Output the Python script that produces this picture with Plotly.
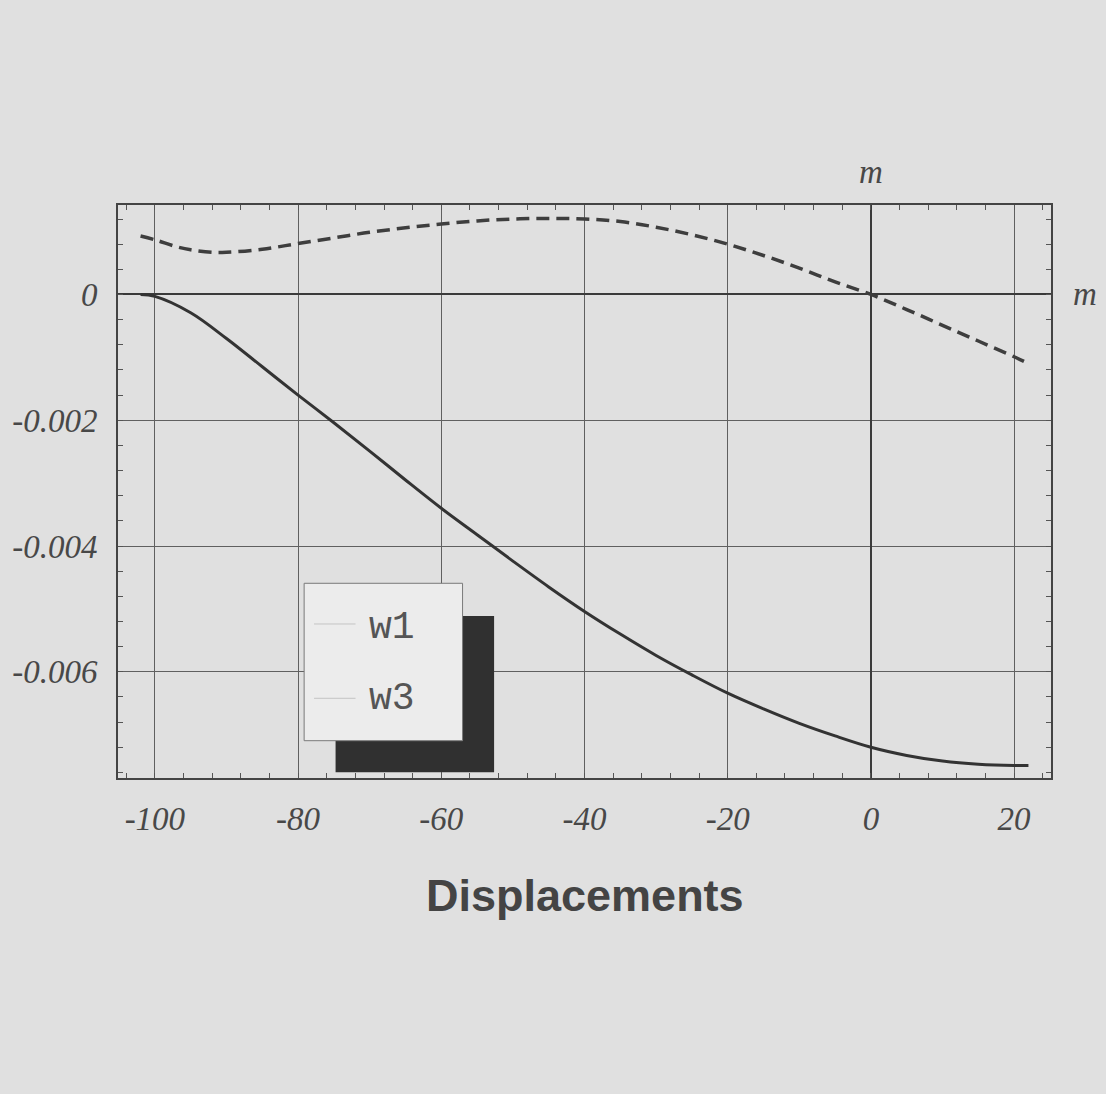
import plotly.graph_objects as go

# Beam displacement profiles along the span (m)
x_w1 = [-102, -100, -95, -90, -85, -80, -75, -70, -65, -60, -55, -50, -45, -40,
        -35, -30, -25, -20, -15, -10, -5, 0, 5, 10, 15, 20, 22]
w1 = [0.0, -0.00003, -0.00029, -0.00070, -0.00115, -0.00160, -0.00204, -0.00249,
      -0.00295, -0.00340, -0.00382, -0.00424, -0.00465, -0.00504, -0.00540,
      -0.00574, -0.00605, -0.00634, -0.00659, -0.00682, -0.00702, -0.00720,
      -0.00733, -0.00742, -0.00747, -0.00749, -0.00749]

x_w3 = [-102, -100, -97, -95, -92, -90, -85, -80, -75, -70, -65, -60, -55, -50,
        -45, -40, -35, -30, -25, -20, -15, -10, -5, 0, 5, 10, 15, 20, 22]
w3 = [0.00093, 0.00087, 0.00076, 0.00071, 0.00067, 0.00067, 0.00072, 0.00081,
      0.00090, 0.00099, 0.00106, 0.00112, 0.00117, 0.00120, 0.00121, 0.00120,
      0.00116, 0.00107, 0.00095, 0.00080, 0.00062, 0.00042, 0.00020, 0.0,
      -0.00024, -0.00049, -0.00074, -0.00099, -0.00110]

x_ticks = [-100, -80, -60, -40, -20, 0, 20]
x_labels = ["-100", "-80", "-60", "-40", "-20", "0", "20"]
y_ticks = [0, -0.002, -0.004, -0.006]
y_labels = ["0", "-0.002", "-0.004", "-0.006"]

legend_names = ["w1", "w3"]
title_text = "Displacements"
axis_unit = "m"

X_RANGE = [-105.15, 25.15]
Y_RANGE = [-0.007689, 0.001423]

BG = "#e0e0e0"
INK = "#484848"
GRID = "#606060"

fig = go.Figure()
fig.add_trace(go.Scatter(x=x_w1, y=w1, mode="lines", name=legend_names[0],
                         line=dict(color="#333333", width=3, shape="spline",
                                   smoothing=1.0)))
fig.add_trace(go.Scatter(x=x_w3, y=w3, mode="lines", name=legend_names[1],
                         line=dict(color="#3e3e3e", width=3.5, dash="13px,7px",
                                   shape="spline", smoothing=1.0)))
# empty trace carrying the mirrored top/right axes for the frame ticks
fig.add_trace(go.Scatter(x=[], y=[], xaxis="x2", yaxis="y2", hoverinfo="skip"))

tick_font = dict(family="Liberation Serif, Times New Roman, serif", size=33,
                 color=INK, style="italic")

fig.update_layout(
    xaxis=dict(range=X_RANGE, tickvals=x_ticks, ticktext=x_labels,
               tickfont=tick_font, ticks="", ticklabelstandoff=10,
               showgrid=True, gridcolor=GRID, gridwidth=1.4,
               zeroline=True, zerolinecolor="#3a3a3a", zerolinewidth=2.2,
               showline=True, linecolor="#444444", linewidth=2, mirror=True,
               minor=dict(dtick=4, tick0=0, ticks="inside", ticklen=5,
                          tickcolor="#555555", showgrid=False)),
    yaxis=dict(range=Y_RANGE, tickvals=y_ticks, ticktext=y_labels,
               tickfont=tick_font, ticks="", ticklabelstandoff=12,
               showgrid=True, gridcolor=GRID, gridwidth=1.4,
               zeroline=True, zerolinecolor="#3a3a3a", zerolinewidth=2.2,
               showline=True, linecolor="#444444", linewidth=2, mirror=True,
               minor=dict(dtick=0.0004, tick0=0, ticks="inside", ticklen=5,
                          tickcolor="#555555", showgrid=False)),
    xaxis2=dict(range=X_RANGE, overlaying="x", side="top", showgrid=False,
                zeroline=False, showticklabels=False, ticks="", tickvals=[],
                minor=dict(dtick=4, tick0=0, ticks="inside", ticklen=5,
                           tickcolor="#555555", showgrid=False)),
    yaxis2=dict(range=Y_RANGE, overlaying="y", side="right", showgrid=False,
                zeroline=False, showticklabels=False, ticks="", tickvals=[],
                minor=dict(dtick=0.0004, tick0=0, ticks="inside", ticklen=5,
                           tickcolor="#555555", showgrid=False)),
)

# Legend panel with drop shadow
shapes = [
    dict(type="rect", xref="paper", yref="paper", x0=0.2332, x1=0.4031,
         y0=0.0100, y1=0.2827, fillcolor="#303030", line=dict(width=0),
         layer="above"),
    dict(type="rect", xref="paper", yref="paper", x0=0.1995, x1=0.3693,
         y0=0.0651, y1=0.3398, fillcolor="#ececec",
         line=dict(color="#7a7a7a", width=1), layer="above"),
    dict(type="line", xref="paper", yref="paper", x0=0.2101, x1=0.2546,
         y0=0.2688, y1=0.2688, line=dict(color="#c4c4c4", width=1),
         layer="above"),
    dict(type="line", xref="paper", yref="paper", x0=0.2101, x1=0.2546,
         y0=0.1391, y1=0.1391, line=dict(color="#c4c4c4", width=1),
         layer="above"),
]

mono = dict(family="Liberation Mono, Courier New, monospace", size=38, color="#555555")
serif_it = dict(family="Liberation Serif, Times New Roman, serif", size=33,
                color=INK, style="italic")

annotations = [
    dict(text=legend_names[0], xref="paper", yref="paper", x=0.2671, y=0.2635,
         xanchor="left", yanchor="middle", showarrow=False, font=mono),
    dict(text=legend_names[1], xref="paper", yref="paper", x=0.2671, y=0.1396,
         xanchor="left", yanchor="middle", showarrow=False, font=mono),
    dict(text=axis_unit, xref="x", yref="paper", x=0, y=1.0576,
         xanchor="center", yanchor="middle", showarrow=False, font=serif_it),
    dict(text=axis_unit, xref="paper", yref="y", x=1.0363, y=0,
         xanchor="center", yanchor="middle", showarrow=False, font=serif_it),
    dict(text="<b>" + title_text + "</b>", xref="paper", yref="paper",
         x=0.5, y=-0.2042, xanchor="center", yanchor="middle", showarrow=False,
         font=dict(family="Liberation Sans, Arial, sans-serif", size=45,
                   color="#444444")),
]

fig.update_layout(width=1106, height=1094, autosize=False,
                  margin=dict(l=115, r=55, t=205, b=316),
                  paper_bgcolor=BG, plot_bgcolor=BG, showlegend=False,
                  shapes=shapes, annotations=annotations)

fig.write_html("out.html")
